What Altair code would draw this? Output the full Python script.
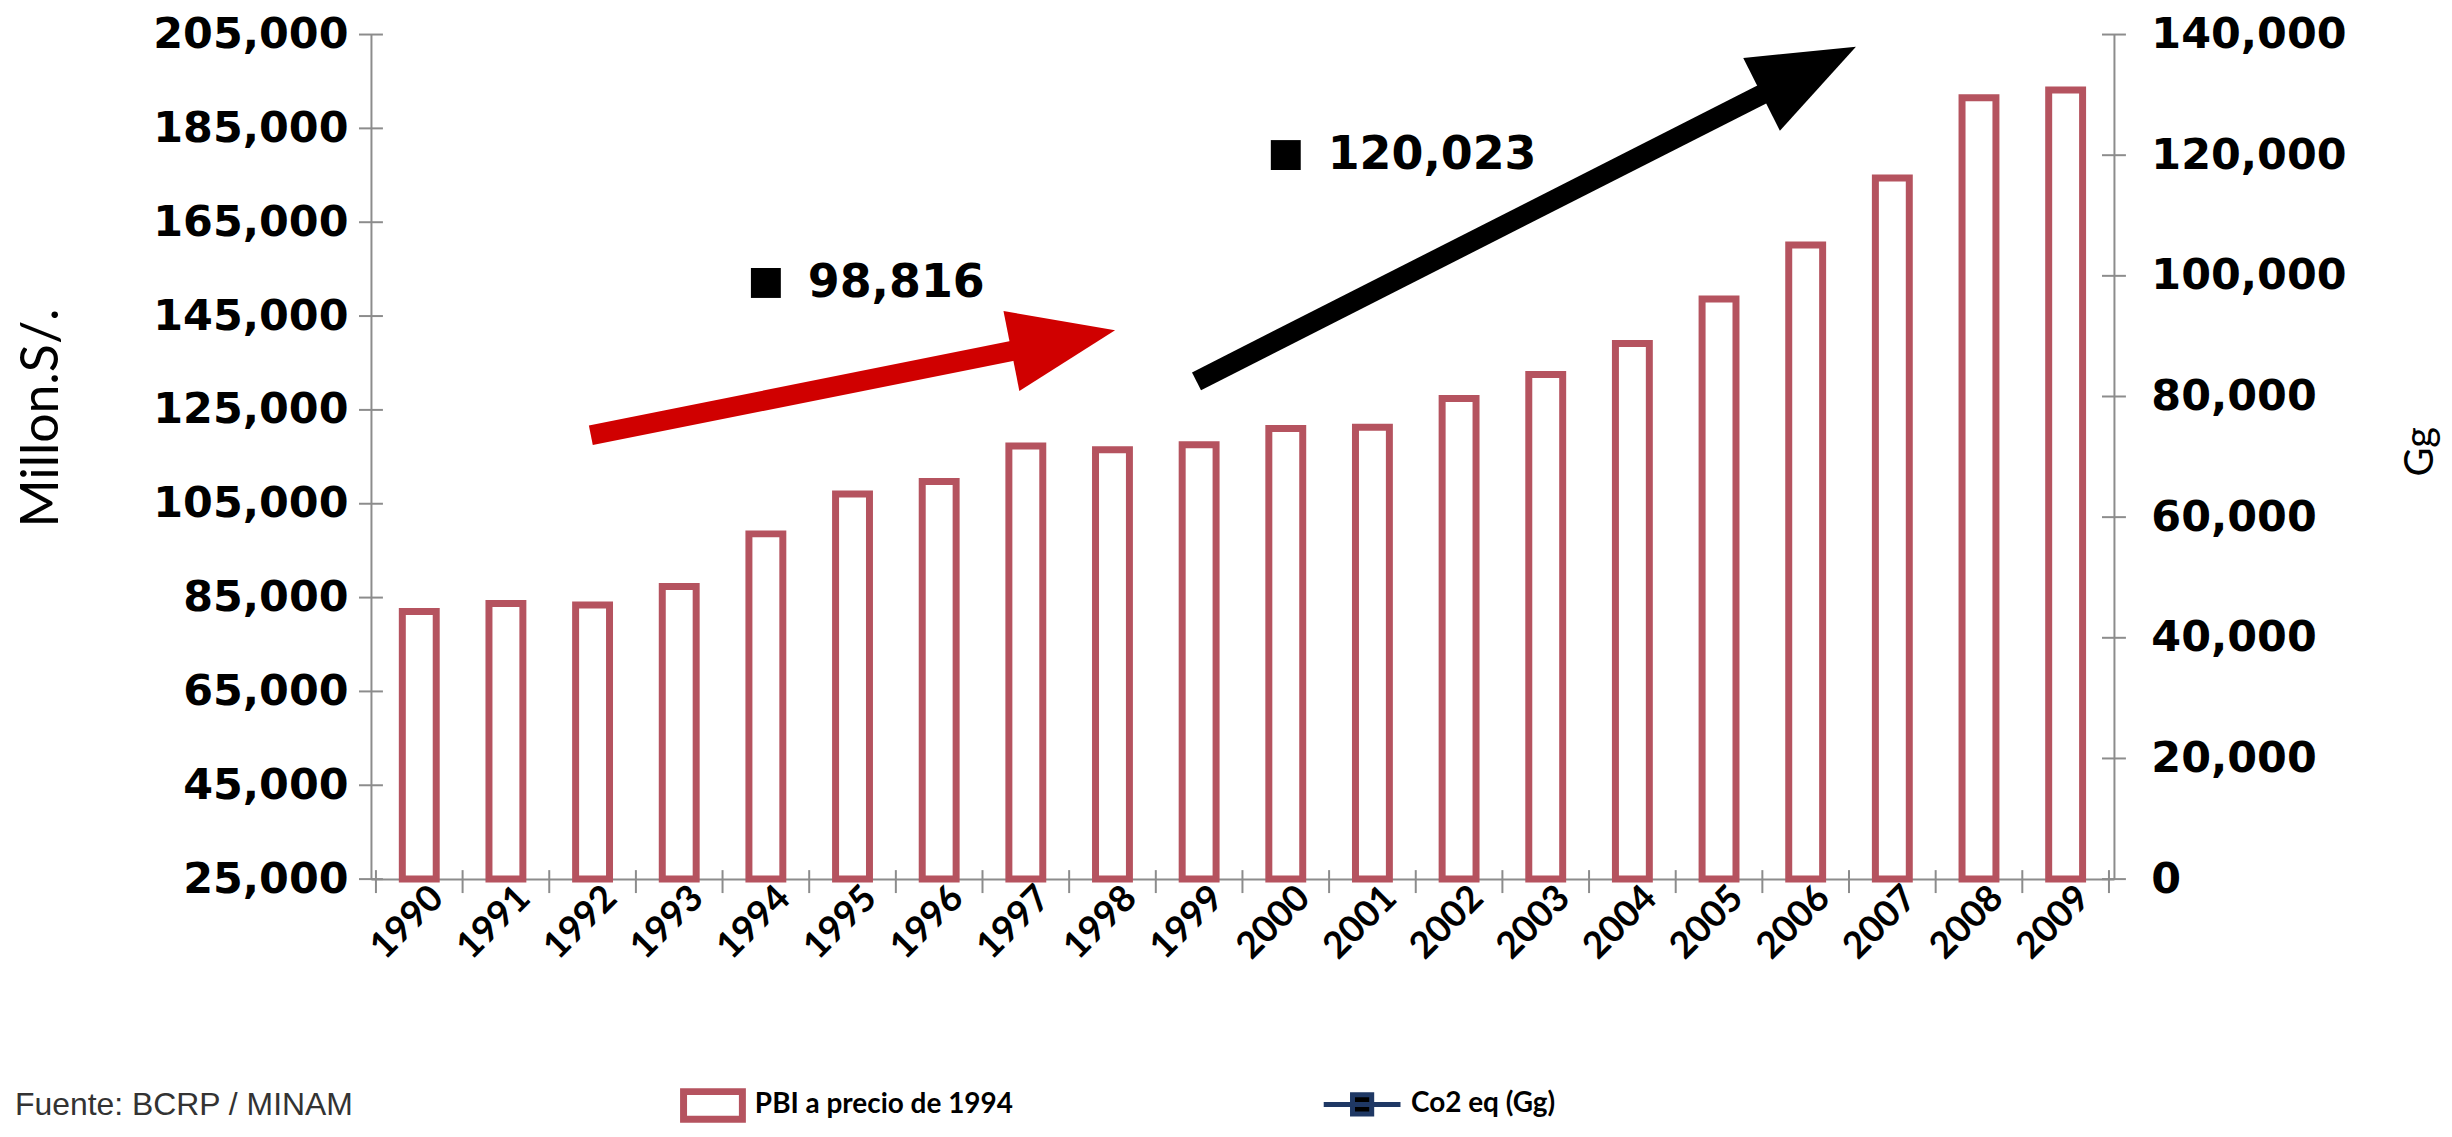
import math
import altair as alt
import pandas as pd

# ---------------- data ----------------
years = list(range(1990, 2010))
pbi = [82032, 83760, 83401, 87375, 98577, 107064, 109760, 117294, 116522, 117587,
       121057, 121317, 127407, 132545, 139141, 148640, 160145, 174407, 191505, 193155]
pbi_name = "PBI a precio de 1994"

co2_years = [1994, 2000]
co2_values = [98816, 120023]
co2_labels = ["98,816", "120,023"]
co2_name = "Co2 eq (Gg)"

left_ticks = [25000, 45000, 65000, 85000, 105000, 125000, 145000, 165000, 185000, 205000]
right_ticks = [0, 20000, 40000, 60000, 80000, 100000, 120000, 140000]

# annotation arrows (start and tip, in year / left-axis units)
arrow_colors = ["#D00000", "#000000"]
arrow_x0 = [1991.98, 1998.97]
arrow_y0 = [119600, 131100]
arrow_x1 = [1998.03, 2006.58]
arrow_y1 = [141950, 202400]

source_note = "Fuente: BCRP / MINAM"

# ---------------- layout ----------------
W, H = 1748, 847
XDOM = [1989.5, 2009.5]
YL = [25000, 205000]
YR = [0, 140000]
GRAY = "#8C8C8C"
BAR_COLOR = "#B5535F"
HEAD_S = 53.0  # half-scale of arrowhead path
HEAD_PATH = "M0,0L-2,-0.77L-2,0.77Z"
LEG_Y = 1070

bounds = [y - 0.5 for y in years] + [years[-1] + 0.5]

arrows = []
for c, x0, y0, x1, y1 in zip(arrow_colors, arrow_x0, arrow_y0, arrow_x1, arrow_y1):
    dxp = (x1 - x0) / (XDOM[1] - XDOM[0]) * W
    dyp = (y1 - y0) / (YL[1] - YL[0]) * H
    L = math.hypot(dxp, dyp)
    ang = (-math.degrees(math.atan2(dyp, dxp))) % 360
    f = 1 - (HEAD_S * 2 * 0.75) / L
    arrows.append({"c": c, "x0": x0, "y0": y0, "x1": x1, "y1": y1,
                   "xe": x0 + f * (x1 - x0), "ye": y0 + f * (y1 - y0), "ang": ang})
arrow_df = pd.DataFrame(arrows)

bar_df = pd.DataFrame({"year": years, "pbi": pbi, "serie": pbi_name})
co2_df = pd.DataFrame({"year": co2_years, "co2": co2_values, "lab": co2_labels, "serie": co2_name})

xs = alt.Scale(domain=XDOM, nice=False, zero=False)
yls = alt.Scale(domain=YL, nice=False, zero=False)
yrs = alt.Scale(domain=YR, nice=False, zero=False)

x_axis = alt.Axis(values=years, format="d", labelAngle=315, labelAlign="right",
                  labelBaseline="middle", labelFont="Lato", labelFontWeight="bold",
                  labelFontSize=37, labelColor="black", labelPadding=13, labelOffset=18,
                  ticks=False, domainColor=GRAY, domainWidth=2, grid=False, title=None,
                  labelOverlap=False, labelLimit=1000)

left_axis = alt.Axis(values=left_ticks, format=",d", labelFont="DejaVu Sans",
                     labelFontWeight="bold", labelFontSize=43, labelColor="black",
                     labelPadding=23, ticks=False, domainColor=GRAY, domainWidth=2,
                     grid=False, title="Millon.S/.", titleFont="Lato", titleFontSize=52,
                     titleFontWeight="normal", titleColor="black", titleAngle=270,
                     titleX=-330, titleY=384, titleAlign="center", titleBaseline="middle",
                     labelOverlap=False, labelLimit=1000)

right_axis = alt.Axis(orient="right", values=right_ticks, format=",d", labelFont="DejaVu Sans",
                      labelFontWeight="bold", labelFontSize=43, labelColor="black",
                      labelPadding=37, ticks=False, domainColor=GRAY, domainWidth=2,
                      grid=False, title="Gg", titleFont="Lato", titleFontSize=40,
                      titleFontWeight="normal", titleColor="black", titleAngle=270,
                      titleX=307, titleY=418, titleAlign="center", titleBaseline="middle",
                      labelOverlap=False, labelLimit=1000)

bars = alt.Chart(bar_df).mark_bar(size=34, fill="white", strokeWidth=7).encode(
    x=alt.X("year:Q", scale=xs, axis=x_axis),
    y=alt.Y("pbi:Q", scale=yls, axis=left_axis),
    y2=alt.datum(25000),
    stroke=alt.Stroke("serie:N", scale=alt.Scale(domain=[pbi_name], range=[BAR_COLOR]),
                      legend=alt.Legend(orient="none", legendX=310, legendY=LEG_Y - 29,
                                        direction="horizontal", title=None,
                                        symbolType="M-1,-0.47H1V0.47H-1Z", symbolSize=3481,
                                        symbolStrokeWidth=7, symbolFillColor="white",
                                        labelFont="Lato", labelFontWeight="bold",
                                        labelFontSize=28, labelColor="black",
                                        labelOffset=9, labelLimit=1000, padding=0)),
)

ltick = alt.Chart(pd.DataFrame({"v": left_ticks})).mark_rule(color=GRAY, strokeWidth=2).encode(
    y=alt.Y("v:Q", scale=yls, axis=left_axis), x=alt.value(-12), x2=alt.value(12))

xtick = alt.Chart(pd.DataFrame({"b": bounds})).mark_rule(color=GRAY, strokeWidth=2).encode(
    x=alt.X("b:Q", scale=xs, axis=x_axis), y=alt.value(H - 9), y2=alt.value(H + 14))

shafts = alt.Chart(arrow_df).mark_rule(strokeWidth=20, strokeCap="butt").encode(
    x=alt.X("x0:Q", scale=xs, axis=x_axis), x2="xe:Q",
    y=alt.Y("y0:Q", scale=yls, axis=left_axis), y2="ye:Q",
    color=alt.Color("c:N", scale=None, legend=None))

heads = alt.Chart(arrow_df).mark_point(shape=HEAD_PATH, filled=True, opacity=1,
                                       size=(2 * HEAD_S) ** 2, strokeWidth=0).encode(
    x=alt.X("x1:Q", scale=xs, axis=x_axis),
    y=alt.Y("y1:Q", scale=yls, axis=left_axis),
    angle=alt.Angle("ang:Q", scale=None),
    fill=alt.Fill("c:N", scale=None, legend=None))

note = alt.Chart(pd.DataFrame({"t": [source_note]})).mark_text(
    align="left", baseline="middle", font="Liberation Sans", fontSize=32, color="#333333").encode(
    text="t:N", x=alt.value(-357), y=alt.value(LEG_Y + 4))

left_group = alt.layer(bars, ltick, xtick, shafts, heads, note)

pts = alt.Chart(co2_df).mark_point(shape="square", filled=True, size=900, opacity=1).encode(
    x=alt.X("year:Q", scale=xs, axis=x_axis),
    y=alt.Y("co2:Q", scale=yrs, axis=right_axis),
    color=alt.Color("serie:N", scale=alt.Scale(domain=[co2_name], range=["#000000"]),
                    legend=alt.Legend(orient="none", legendX=953, legendY=LEG_Y - 38,
                                      direction="horizontal", title=None,
                                      symbolType="M-1,0H1M-0.25,-0.25H0.25V0.25H-0.25Z",
                                      symbolSize=5929, symbolStrokeWidth=5,
                                      symbolStrokeColor="#1F3864",
                                      labelFont="Lato", labelFontWeight="bold",
                                      labelFontSize=28, labelColor="black",
                                      labelOffset=8, labelLimit=1000, padding=0)))

pt_labels = alt.Chart(co2_df).mark_text(align="left", baseline="middle", dx=42,
                                        font="DejaVu Sans", fontWeight="bold",
                                        fontSize=46, color="black").encode(
    x=alt.X("year:Q", scale=xs, axis=x_axis),
    y=alt.Y("co2:Q", scale=yrs, axis=right_axis),
    text="lab:N")

rtick = alt.Chart(pd.DataFrame({"v": right_ticks})).mark_rule(color=GRAY, strokeWidth=2).encode(
    y=alt.Y("v:Q", scale=yrs, axis=right_axis), x=alt.value(W - 12), x2=alt.value(W + 12))

right_group = alt.layer(pts, pt_labels, rtick)

chart = alt.layer(left_group, right_group).resolve_scale(
    y="independent", color="independent"
).properties(
    width=W, height=H,
    padding={"left": 364, "top": 25, "right": 331, "bottom": 248},
    autosize=alt.AutoSizeParams(type="none"),
    background="white",
).configure_view(stroke=None)

chart.save("out.html", embed_options={"renderer": "svg", "actions": False})
